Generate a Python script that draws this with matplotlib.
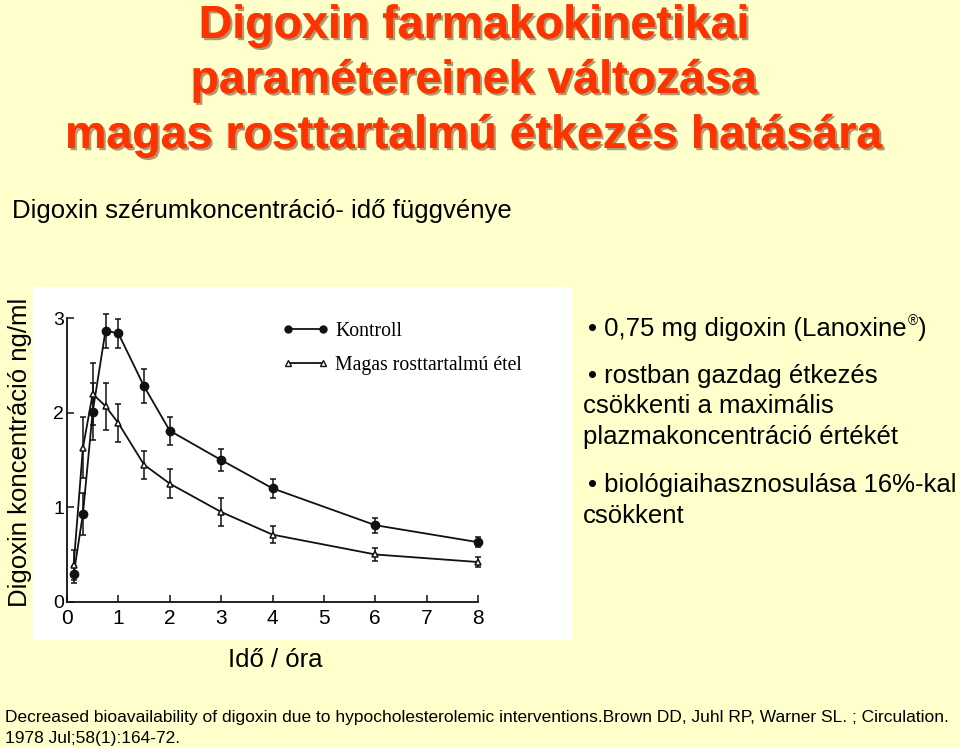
import matplotlib
matplotlib.use('Agg')
import matplotlib.pyplot as plt
import matplotlib.patheffects as pe
from matplotlib.patches import Rectangle
from matplotlib.lines import Line2D

# ---- data ----
times = [0.13, 0.31, 0.5, 0.75, 1, 1.5, 2, 3, 4, 6, 8]
kontroll = [0.29, 0.93, 2.01, 2.87, 2.84, 2.28, 1.81, 1.50, 1.20, 0.81, 0.63]
kontroll_err = [0.09, 0.22, 0.30, 0.18, 0.15, 0.18, 0.15, 0.12, 0.10, 0.08, 0.05]
magas = [0.39, 1.63, 2.20, 2.07, 1.89, 1.45, 1.25, 0.95, 0.71, 0.50, 0.42]
magas_err = [0.16, 0.32, 0.33, 0.25, 0.20, 0.15, 0.15, 0.15, 0.09, 0.07, 0.05]
x_ticks = [0, 1, 2, 3, 4, 5, 6, 7, 8]
y_ticks = [0, 1, 2, 3]
series_labels = ["Kontroll", "Magas rosttartalmú étel"]

title_lines = ["Digoxin farmakokinetikai",
               "paramétereinek változása",
               "magas rosttartalmú étkezés hatására"]
subtitle = "Digoxin szérumkoncentráció- idő függvénye"
ylabel = "Digoxin koncentráció ng/ml"
xlabel = "Idő / óra"
bullets = [("• 0,75 mg digoxin (Lanoxine", 336),
           ("• rostban gazdag étkezés", 383),
           ("csökkenti a maximális", 413),
           ("plazmakoncentráció értékét", 444),
           ("• biológiaihasznosulása 16%-kal", 492),
           ("csökkent", 523)]
footer = ["Decreased bioavailability of digoxin due to hypocholesterolemic interventions.Brown DD, Juhl RP, Warner SL. ; Circulation.",
          "1978 Jul;58(1):164-72."]

W, H = 960, 747
BG = '#FFFFCC'
SANS = ['Liberation Sans', 'DejaVu Sans']
TXT = 18.5


def fx(x):
    return x / W


def fy(y):
    return 1 - y / H


fig = plt.figure(figsize=(W / 100, H / 100), dpi=100, facecolor=BG)

# title with shadow
for i, line in enumerate(title_lines):
    fig.text(fx(474), fy(38 + 55 * i), line, ha='center', va='baseline',
             fontsize=33.5, fontweight='bold', color='#FF3300', family=SANS,
             path_effects=[pe.withSimplePatchShadow(offset=(1.6, -1.6),
                                                    shadow_rgbFace='#6b4a2a',
                                                    alpha=0.55),
                           pe.Normal()])

fig.text(fx(12), fy(218), subtitle, ha='left', va='baseline',
         fontsize=TXT, color='black', family=SANS)

# white scanned-figure background
fig.patches.append(Rectangle((fx(33), fy(640)), fx(572) - fx(33), fy(287) - fy(640),
                             transform=fig.transFigure, facecolor='white',
                             edgecolor='none', zorder=-5))

ax = fig.add_axes([fx(67), fy(601.7), fx(478) - fx(67), fy(318.3) - fy(601.7)])
ax.set_zorder(2)
ax.set_facecolor('none')
ax.set_xlim(0, 8)
ax.set_ylim(0, 3)
for s in ['top', 'right']:
    ax.spines[s].set_visible(False)
for s in ['left', 'bottom']:
    ax.spines[s].set_linewidth(1.3)
    ax.spines[s].set_color('#111111')

ax.errorbar(times, kontroll, yerr=kontroll_err, color='#111111', lw=1.3,
            marker='o', markersize=6, mfc='#111111', mec='#111111',
            elinewidth=1.1, capsize=2.5, capthick=1.1, clip_on=False, zorder=3)
ax.errorbar(times, magas, yerr=magas_err, color='#111111', lw=1.3,
            marker='^', markersize=5, mfc='white', mec='#111111', mew=1.1,
            elinewidth=1.1, capsize=2.5, capthick=1.1, clip_on=False, zorder=3)

ax.set_xticks(x_ticks)
ax.set_yticks(y_ticks)
ax.set_xticklabels([str(t) for t in x_ticks], family=SANS, fontsize=15)
ax.set_yticklabels([str(t) for t in y_ticks], family=SANS, fontsize=14)
ax.tick_params(axis='both', direction='in', length=5, width=1.1, color='#111111')
ax.tick_params(axis='x', pad=5)
ax.tick_params(axis='y', pad=2)

handles = [Line2D([], [], color='#111111', lw=1.3, marker='o', markersize=5,
                  mfc='#111111', mec='#111111'),
           Line2D([], [], color='#111111', lw=1.3, marker='^', markersize=4.5,
                  mfc='white', mec='#111111')]
fig.legend(handles, series_labels, loc='upper left',
           bbox_to_anchor=(fx(264), fy(304)), numpoints=2, handlelength=2.4,
           handletextpad=0.3, labelspacing=0.75, frameon=False,
           prop={'family': ['Liberation Serif', 'DejaVu Serif'], 'size': 14.2})

# axis labels (slide text)
fig.text(fx(20), fy(452), ylabel, rotation=90, ha='center', va='center',
         fontsize=TXT, family=SANS, color='black')
fig.text(fx(275), fy(667), xlabel, ha='center', va='baseline',
         fontsize=TXT, family=SANS, color='black')

# bullets
for txt, yb in bullets:
    x0 = 588 if txt.startswith('•') else 583
    t = fig.text(fx(x0), fy(yb), txt, ha='left', va='baseline',
                 fontsize=TXT, family=SANS, color='black')
    if 'Lanoxine' in txt:
        fig.canvas.draw()
        bb = t.get_window_extent()
        r = fig.text(bb.x1 / W + 0.001, fy(yb - 11), '®', ha='left', va='baseline',
                     fontsize=10, family=SANS, color='black')
        fig.canvas.draw()
        bb2 = r.get_window_extent()
        fig.text(bb2.x1 / W, fy(yb), ')', ha='left', va='baseline',
                 fontsize=TXT, family=SANS, color='black')

for i, line in enumerate(footer):
    fig.text(fx(5), fy(722 + 21 * i), line, ha='left', va='baseline',
             fontsize=12.5, family=['Liberation Sans Narrow', 'Liberation Sans'],
             color='black')

fig.savefig('out.png', dpi=100, facecolor=BG)
